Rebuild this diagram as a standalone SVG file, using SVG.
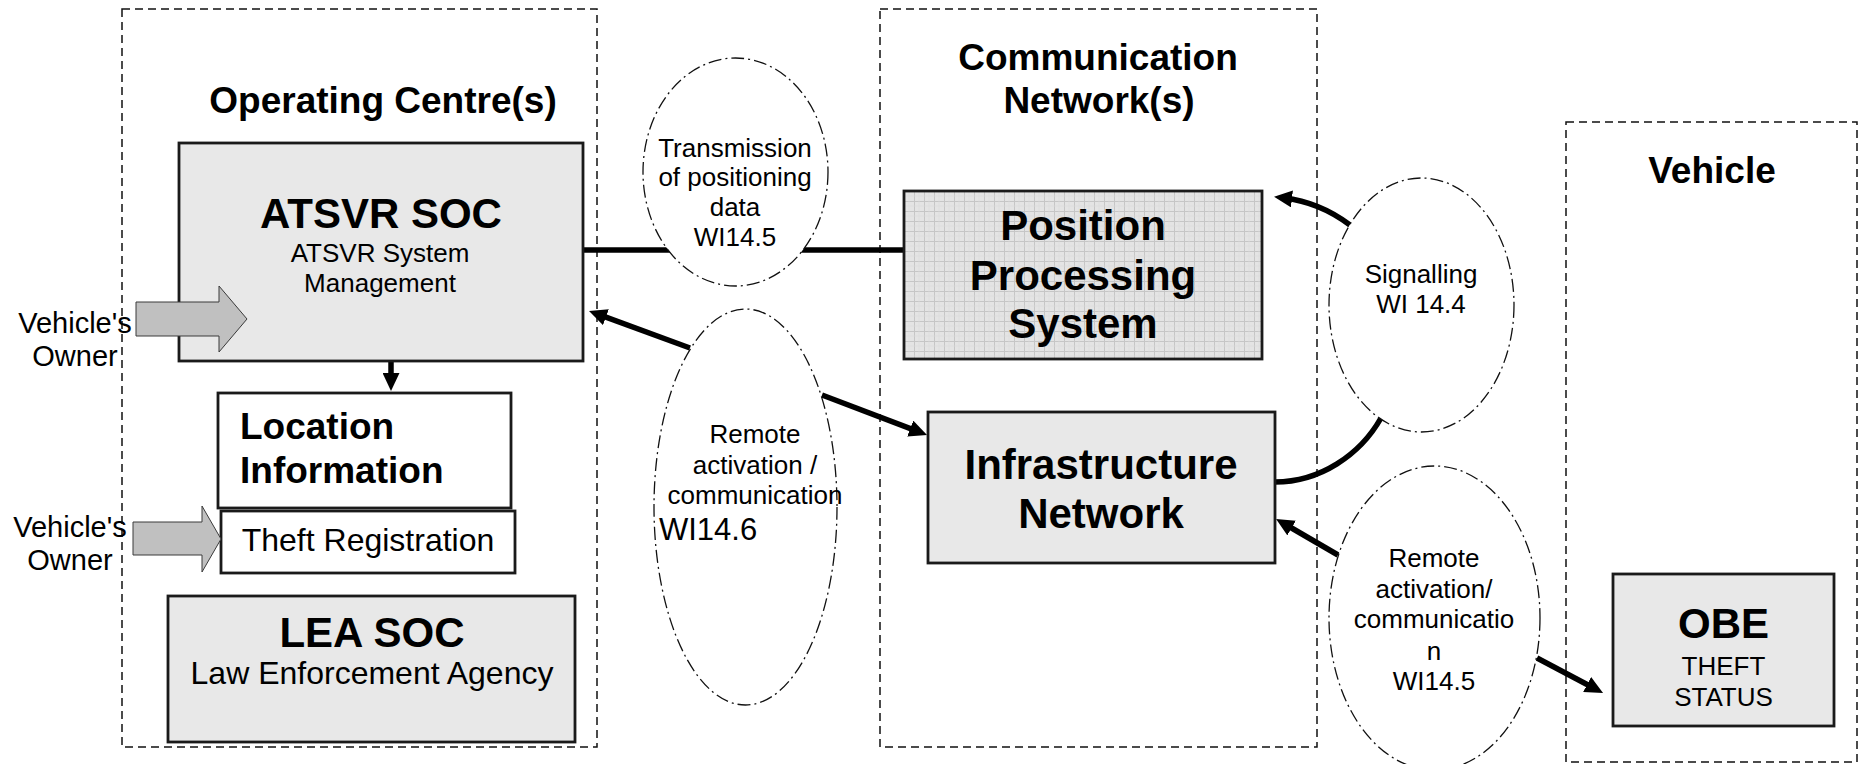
<svg xmlns="http://www.w3.org/2000/svg" width="1859" height="764" viewBox="0 0 1859 764">
  <style>
    .zone { fill: none; stroke: #111; stroke-width: 1.5; stroke-dasharray: 8 5; }
    .box { fill: #e8e8e8; stroke: #1a1a1a; stroke-width: 2.8; }
    .wbox { fill: #ffffff; stroke: #1a1a1a; stroke-width: 2.8; }
    .bubble { fill: #ffffff; stroke: #111; stroke-width: 1.3; stroke-dasharray: 13 4 2 4; }
    .link { fill: none; stroke: #000; stroke-width: 5.5; }
    .arrowed { marker-end: url(#head); }
    .block { fill: #c0c0c0; stroke: #3a3a3a; stroke-width: 1; }
    text { font-family: "Liberation Sans", Arial, sans-serif; fill: #000; }
    .title { font-size: 37px; font-weight: bold; text-anchor: middle; }
    .big { font-size: 42px; font-weight: bold; text-anchor: middle; }
    .mid { font-size: 32px; text-anchor: middle; }
    .lbl { font-size: 26px; text-anchor: middle; }
    .owner { font-size: 29px; text-anchor: middle; }
  </style>
  <defs>
    <marker id="head" viewBox="0 0 18 17" refX="8" refY="8.5" markerWidth="18" markerHeight="17" markerUnits="userSpaceOnUse" orient="auto">
      <path d="M0,0 L18,8.5 L0,17 z" fill="#000"/>
    </marker>
    <pattern id="grid" width="10" height="10" patternUnits="userSpaceOnUse" x="904" y="191">
      <rect width="10" height="10" fill="#e4e4e4"/>
      <path d="M0,0.5 H10 M0.5,0 V10" stroke="#c6c6c6" stroke-width="1"/>
      <path d="M5,0 V10 M0,5 H10" stroke="#dadada" stroke-width="0.6"/>
    </pattern>
  </defs>

  <!-- domain outlines -->
  <g id="zones">
    <rect class="zone" x="122" y="9" width="475" height="738"/>
    <rect class="zone" x="880" y="9" width="437" height="738"/>
    <rect class="zone" x="1566" y="122" width="291" height="640"/>
    <text class="title" x="383" y="113">Operating Centre(s)</text>
    <text class="title" x="1098" y="70">Communication</text>
    <text class="title" x="1099" y="113">Network(s)</text>
    <text class="title" x="1712" y="183">Vehicle</text>
  </g>

  <!-- connectors -->
  <g id="connectors">
    <line class="link" x1="583" y1="250" x2="904" y2="250"/>
    <line class="link arrowed" x1="391" y1="317" x2="391" y2="381"/>
    <line class="link arrowed" x1="690" y1="348" x2="598.4" y2="314.4"/>
    <line class="link arrowed" x1="822" y1="395" x2="917.7" y2="431.4"/>
    <path class="link arrowed" d="M1350,225 C1330,210 1310,201 1284,198"/>
    <path class="link" d="M1275,482 C1320,482 1360,455 1381,418"/>
    <line class="link arrowed" x1="1338" y1="555" x2="1284.7" y2="524"/>
    <line class="link arrowed" x1="1537" y1="658" x2="1594.2" y2="688.3"/>
  </g>

  <!-- interface bubbles -->
  <g id="tx-positioning">
    <ellipse class="bubble" cx="735.5" cy="172" rx="92.5" ry="114"/>
    <text class="lbl" x="735" y="157">Transmission</text>
    <text class="lbl" x="735" y="186">of positioning</text>
    <text class="lbl" x="735" y="216">data</text>
    <text class="lbl" x="735" y="246">WI14.5</text>
  </g>
  <g id="remote-soc">
    <ellipse class="bubble" cx="745.5" cy="507" rx="91.5" ry="198"/>
    <text class="lbl" x="755" y="443">Remote</text>
    <text class="lbl" x="755" y="474">activation /</text>
    <text class="lbl" x="755" y="504">communication</text>
    <text x="659" y="540" font-size="31">WI14.6</text>
  </g>
  <g id="signalling">
    <ellipse class="bubble" cx="1421.5" cy="305" rx="92.5" ry="127"/>
    <text class="lbl" x="1421" y="283">Signalling</text>
    <text class="lbl" x="1421" y="313">WI 14.4</text>
  </g>
  <g id="remote-obe">
    <ellipse class="bubble" cx="1434.5" cy="618" rx="105.5" ry="152"/>
    <text class="lbl" x="1434" y="567">Remote</text>
    <text class="lbl" x="1434" y="598">activation/</text>
    <text class="lbl" x="1434" y="628">communicatio</text>
    <text class="lbl" x="1434" y="660">n</text>
    <text class="lbl" x="1434" y="690">WI14.5</text>
  </g>

  <!-- operating centre -->
  <g id="atsvr-soc">
    <rect class="box" x="179" y="143" width="404" height="218"/>
    <text class="big" x="381" y="228">ATSVR SOC</text>
    <text class="lbl" x="380" y="262">ATSVR System</text>
    <text class="lbl" x="380" y="292">Management</text>
  </g>
  <g id="owner-1">
    <polygon class="block" points="136,302 219,302 219,286 247,319 219,352 219,336 136,336"/>
    <text class="owner" x="75" y="333">Vehicle's</text>
    <text class="owner" x="75" y="366">Owner</text>
  </g>
  <g id="location-info">
    <rect class="wbox" x="218" y="393" width="293" height="115"/>
    <text x="240" y="439" font-size="37" font-weight="bold">Location</text>
    <text x="240" y="483" font-size="37" font-weight="bold">Information</text>
  </g>
  <g id="theft-registration">
    <rect class="wbox" x="221" y="511" width="294" height="62"/>
    <text class="mid" x="368" y="551">Theft Registration</text>
  </g>
  <g id="owner-2">
    <polygon class="block" points="133,522 202,522 202,506 221,539 202,572 202,555 133,555"/>
    <text class="owner" x="70" y="537">Vehicle's</text>
    <text class="owner" x="70" y="570">Owner</text>
  </g>
  <g id="lea-soc">
    <rect class="box" x="168" y="596" width="407" height="146"/>
    <text class="big" x="372" y="647">LEA SOC</text>
    <text class="mid" x="372" y="684">Law Enforcement Agency</text>
  </g>

  <!-- communication network -->
  <g id="position-processing">
    <rect x="904" y="191" width="358" height="168" fill="url(#grid)" stroke="#1a1a1a" stroke-width="2.8"/>
    <text class="big" x="1083" y="240">Position</text>
    <text class="big" x="1083" y="290">Processing</text>
    <text class="big" x="1083" y="338">System</text>
  </g>
  <g id="infrastructure">
    <rect class="box" x="928" y="412" width="347" height="151"/>
    <text class="big" x="1101" y="479">Infrastructure</text>
    <text class="big" x="1101" y="528">Network</text>
  </g>

  <!-- vehicle -->
  <g id="obe">
    <rect class="box" x="1613" y="574" width="221" height="152"/>
    <text class="big" x="1723.5" y="638">OBE</text>
    <text class="lbl" x="1723.5" y="675">THEFT</text>
    <text class="lbl" x="1723.5" y="706">STATUS</text>
  </g>
</svg>
